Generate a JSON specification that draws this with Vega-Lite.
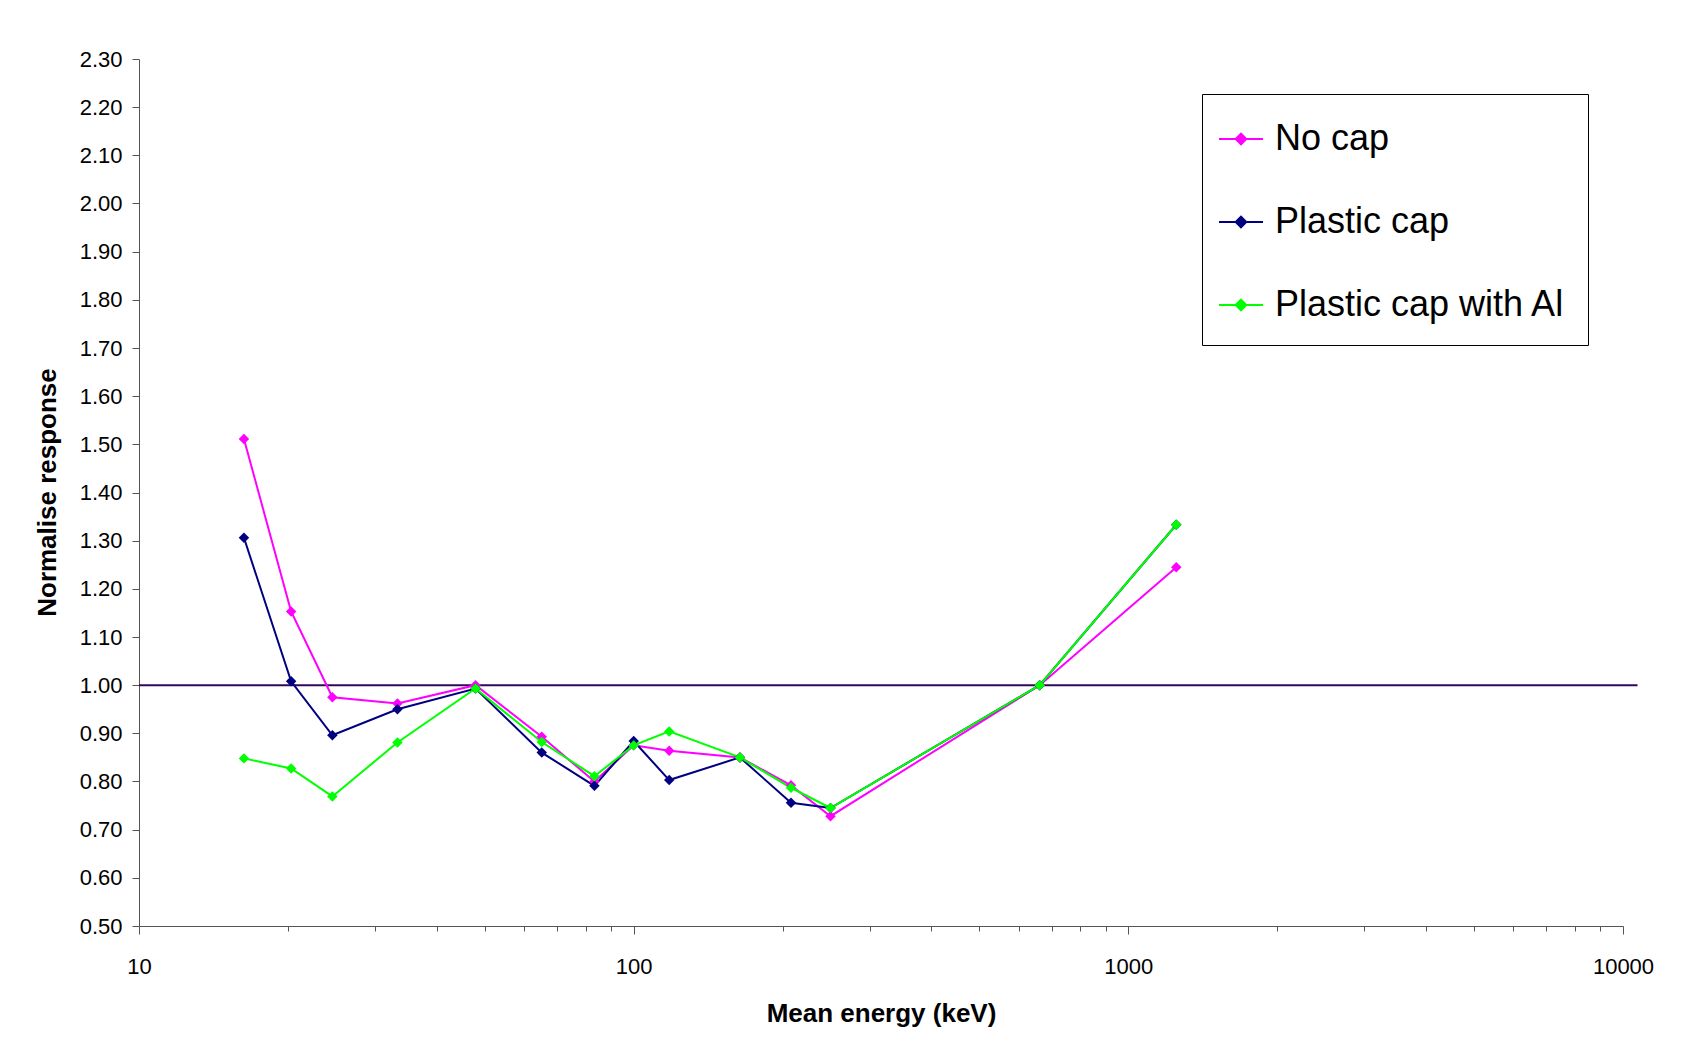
{
  "$schema": "https://vega.github.io/schema/vega-lite/v6.json",
  "width": 1484,
  "height": 867,
  "autosize": {"type": "none"},
  "padding": {"left": 139, "top": 59, "right": 79, "bottom": 122},
  "background": "#FFFFFF",
  "config": {
    "view": {"stroke": null},
    "font": "Liberation Sans",
    "axis": {"grid": false, "domainColor": "#555555", "tickColor": "#555555", "labelColor": "#000000", "titleColor": "#000000", "labelFont": "Liberation Sans", "titleFont": "Liberation Sans"}
  },
  "datasets": {
    "series": [
      {"series": "No cap", "energy": 16.3, "response": 1.511},
      {"series": "No cap", "energy": 20.3, "response": 1.153},
      {"series": "No cap", "energy": 24.6, "response": 0.975},
      {"series": "No cap", "energy": 33.3, "response": 0.962},
      {"series": "No cap", "energy": 47.9, "response": 1.0},
      {"series": "No cap", "energy": 65.2, "response": 0.893},
      {"series": "No cap", "energy": 83.3, "response": 0.8},
      {"series": "No cap", "energy": 100, "response": 0.875},
      {"series": "No cap", "energy": 118, "response": 0.864},
      {"series": "No cap", "energy": 164, "response": 0.85},
      {"series": "No cap", "energy": 208, "response": 0.792},
      {"series": "No cap", "energy": 250, "response": 0.728},
      {"series": "No cap", "energy": 662, "response": 1.0},
      {"series": "No cap", "energy": 1250, "response": 1.245},
      {"series": "Plastic cap", "energy": 16.3, "response": 1.306},
      {"series": "Plastic cap", "energy": 20.3, "response": 1.008},
      {"series": "Plastic cap", "energy": 24.6, "response": 0.896},
      {"series": "Plastic cap", "energy": 33.3, "response": 0.95},
      {"series": "Plastic cap", "energy": 47.9, "response": 0.993},
      {"series": "Plastic cap", "energy": 65.2, "response": 0.86},
      {"series": "Plastic cap", "energy": 83.3, "response": 0.791},
      {"series": "Plastic cap", "energy": 100, "response": 0.884},
      {"series": "Plastic cap", "energy": 118, "response": 0.803},
      {"series": "Plastic cap", "energy": 164, "response": 0.85},
      {"series": "Plastic cap", "energy": 208, "response": 0.756},
      {"series": "Plastic cap", "energy": 250, "response": 0.745},
      {"series": "Plastic cap", "energy": 662, "response": 1.0},
      {"series": "Plastic cap", "energy": 1250, "response": 1.333},
      {"series": "Plastic cap with Al", "energy": 16.3, "response": 0.848},
      {"series": "Plastic cap with Al", "energy": 20.3, "response": 0.827},
      {"series": "Plastic cap with Al", "energy": 24.6, "response": 0.769},
      {"series": "Plastic cap with Al", "energy": 33.3, "response": 0.881},
      {"series": "Plastic cap with Al", "energy": 47.9, "response": 0.993},
      {"series": "Plastic cap with Al", "energy": 65.2, "response": 0.882},
      {"series": "Plastic cap with Al", "energy": 83.3, "response": 0.811},
      {"series": "Plastic cap with Al", "energy": 100, "response": 0.875},
      {"series": "Plastic cap with Al", "energy": 118, "response": 0.904},
      {"series": "Plastic cap with Al", "energy": 164, "response": 0.85},
      {"series": "Plastic cap with Al", "energy": 208, "response": 0.787},
      {"series": "Plastic cap with Al", "energy": 250, "response": 0.745},
      {"series": "Plastic cap with Al", "energy": 662, "response": 1.0},
      {"series": "Plastic cap with Al", "energy": 1250, "response": 1.333}
    ],
    "reference": [
      {"energy": 10, "energy2": 10700, "response": 1.0}
    ]
  },
  "resolve": {"axis": {"x": "independent"}},
  "layer": [
    {
      "data": {"name": "reference"},
      "mark": {"type": "rule", "color": "#300858", "strokeWidth": 2},
      "encoding": {
        "x": {
          "field": "energy", "type": "quantitative",
          "scale": {"type": "log", "domain": [10, 10000], "nice": false},
          "axis": {
            "orient": "bottom",
            "values": [20, 30, 40, 50, 60, 70, 80, 90, 200, 300, 400, 500, 600, 700, 800, 900, 2000, 3000, 4000, 5000, 6000, 7000, 8000, 9000],
            "labels": false, "domain": false, "tickSize": 5, "title": null
          }
        },
        "x2": {"field": "energy2"},
        "y": {
          "field": "response", "type": "quantitative",
          "scale": {"domain": [0.5, 2.3], "nice": false, "zero": false},
          "title": "Normalise response"
        }
      }
    },
    {
      "data": {"name": "series"},
      "mark": {"type": "line", "strokeWidth": 2},
      "encoding": {
        "x": {
          "field": "energy", "type": "quantitative",
          "scale": {"type": "log", "domain": [10, 10000], "nice": false},
          "axis": {
            "orient": "bottom",
            "values": [10, 100, 1000, 10000],
            "format": "d",
            "tickSize": 8,
            "labelFontSize": 22,
            "labelBaseline": "alphabetic",
            "labelPadding": 39,
            "labelFlush": false,
            "title": "Mean energy (keV)",
            "titleFontSize": 26,
            "titleFontWeight": "bold",
            "titleBaseline": "middle",
            "titleY": 87,
            "titleX": 742
          }
        },
        "y": {
          "field": "response", "type": "quantitative",
          "scale": {"domain": [0.5, 2.3], "nice": false, "zero": false},
          "title": "Normalise response",
          "axis": {
            "values": [0.5, 0.6, 0.7, 0.8, 0.9, 1.0, 1.1, 1.2, 1.3, 1.4, 1.5, 1.6, 1.7, 1.8, 1.9, 2.0, 2.1, 2.2, 2.3],
            "format": ".2f",
            "tickSize": 7,
            "labelFontSize": 22,
            "labelPadding": 10,
            "labelFlush": false,
            "titleFontSize": 26,
            "titleFontWeight": "bold",
            "titleAngle": -90,
            "titleBaseline": "middle",
            "titleAlign": "center",
            "titleX": -92,
            "titleY": 433
          }
        },
        "color": {
          "field": "series", "type": "nominal",
          "scale": {"domain": ["No cap", "Plastic cap", "Plastic cap with Al"], "range": ["#FF00FF", "#000080", "#00FF00"]},
          "legend": {
            "title": null,
            "orient": "none",
            "legendX": 1063,
            "legendY": 35,
            "padding": 22,
            "strokeColor": "#000000",
            "fillColor": "#FFFFFF",
            "labelFontSize": 36,
            "labelFont": "Liberation Sans",
            "labelColor": "#000000",
            "labelLimit": 0,
            "symbolType": "M-1,0L1,0M-0.24,0L0,-0.24L0.24,0L0,0.24Z",
            "symbolSize": 1936,
            "symbolStrokeWidth": 2,
            "symbolOffset": -6,
            "labelOffset": 11,
            "rowPadding": 42,
            "encode": {
              "symbols": {"update": {"fill": {"scale": "color", "field": "value"}, "stroke": {"scale": "color", "field": "value"}, "opacity": {"value": 1}}}
            }
          }
        },
        "order": {"field": "energy", "type": "quantitative"}
      }
    },
    {
      "data": {"name": "series"},
      "mark": {"type": "point", "shape": "diamond", "filled": true, "size": 110, "opacity": 1},
      "encoding": {
        "x": {"field": "energy", "type": "quantitative", "scale": {"type": "log", "domain": [10, 10000], "nice": false}, "axis": null},
        "y": {"field": "response", "type": "quantitative", "scale": {"domain": [0.5, 2.3], "nice": false, "zero": false}, "title": "Normalise response"},
        "color": {"field": "series", "type": "nominal", "scale": {"domain": ["No cap", "Plastic cap", "Plastic cap with Al"], "range": ["#FF00FF", "#000080", "#00FF00"]}}
      }
    }
  ]
}
